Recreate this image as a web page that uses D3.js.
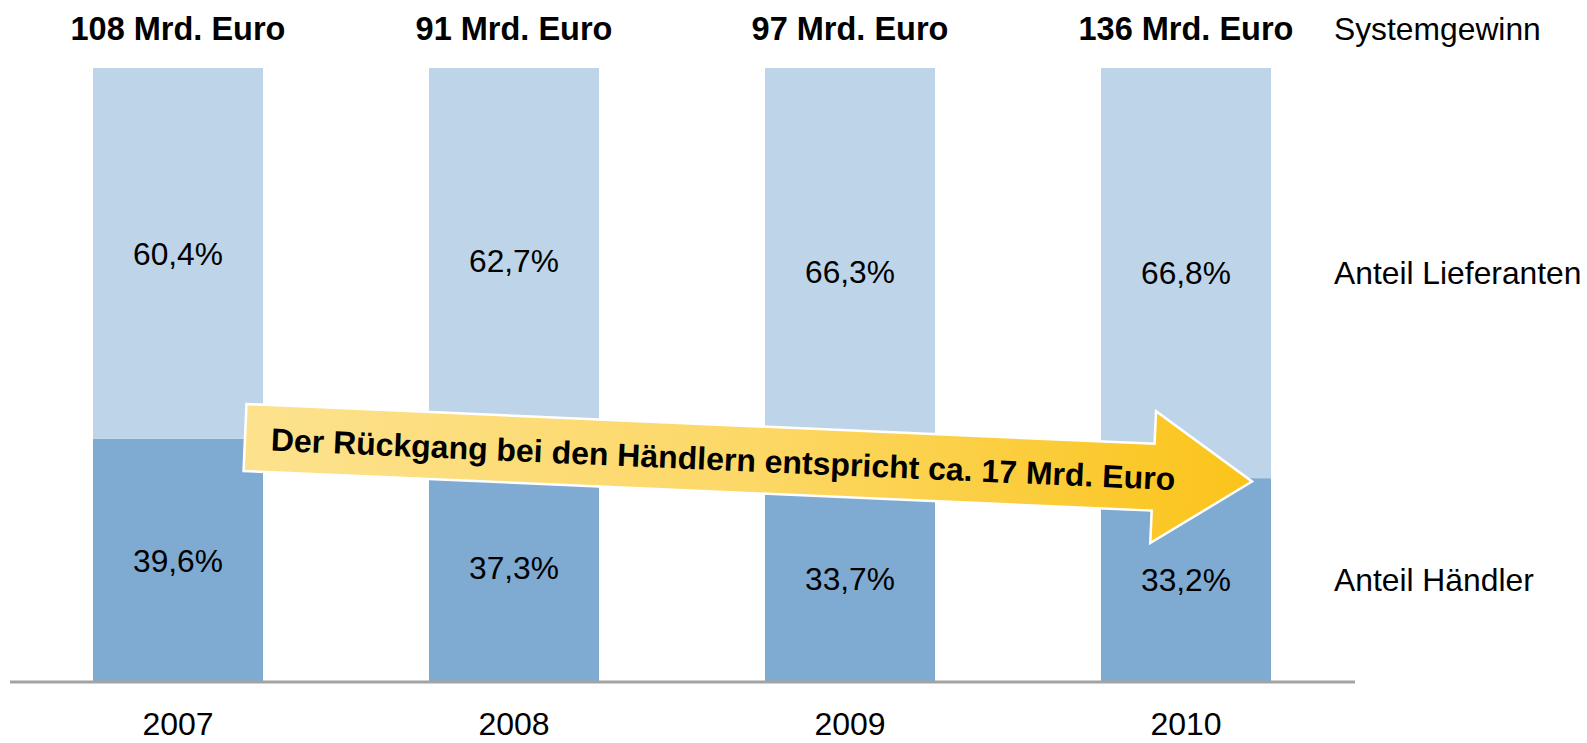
<!DOCTYPE html>
<html>
<head>
<meta charset="utf-8">
<script src="https://cdn.jsdelivr.net/npm/d3@7"></script>
<style>
html,body{margin:0;padding:0;background:#fff;}
text{font-family:"Liberation Sans", Arial, sans-serif;}
</style>
</head>
<body>
<svg id="chart" width="1587" height="743"></svg>
<script>
const years = ["2007", "2008", "2009", "2010"];
const totals = ["108 Mrd. Euro", "91 Mrd. Euro", "97 Mrd. Euro", "136 Mrd. Euro"];
const haendler = [39.6, 37.3, 33.7, 33.2];
const lieferanten = [60.4, 62.7, 66.3, 66.8];
const seriesNames = ["Anteil Händler", "Anteil Lieferanten"];
const totalLabel = "Systemgewinn";
const arrowText = "Der Rückgang bei den Händlern entspricht ca. 17 Mrd. Euro";

const fmt = v => d3.format(".1f")(v).replace(".", ",") + "%";

const svg = d3.select("#chart");
const x = d3.scaleBand().domain(years).range([10, 1354]).paddingInner(0.494).paddingOuter(0.247);
const y = d3.scaleLinear().domain([0, 100]).range([682, 68]);

const colors = {h: "#7FAAD1", l: "#BED4E8"};

const data = years.map((yr, i) => ({yr, h: haendler[i], l: lieferanten[i], total: totals[i]}));

// bars
const g = svg.append("g");
g.selectAll(".bh").data(data).join("rect")
  .attr("x", d => x(d.yr)).attr("width", x.bandwidth())
  .attr("y", d => y(d.h)).attr("height", d => y(0) - y(d.h))
  .attr("fill", colors.h);
g.selectAll(".bl").data(data).join("rect")
  .attr("x", d => x(d.yr)).attr("width", x.bandwidth())
  .attr("y", d => y(d.h + d.l)).attr("height", d => y(d.h) - y(d.h + d.l))
  .attr("fill", colors.l);

// value labels
const lab = svg.append("g").attr("font-size", 31.7).attr("text-anchor", "middle").attr("fill", "#000");
lab.selectAll(".vl").data(data).join("text")
  .attr("x", d => x(d.yr) + x.bandwidth() / 2)
  .attr("y", d => y(d.h + d.l / 2)).attr("dy", "0.35em")
  .text(d => fmt(d.l));
lab.selectAll(".vh").data(data).join("text")
  .attr("x", d => x(d.yr) + x.bandwidth() / 2)
  .attr("y", d => y(d.h / 2)).attr("dy", "0.35em")
  .text(d => fmt(d.h));

// totals
svg.append("g").selectAll("text").data(data).join("text")
  .attr("x", d => x(d.yr) + x.bandwidth() / 2)
  .attr("y", 40).attr("text-anchor", "middle")
  .attr("font-size", 32.5).attr("font-weight", "bold")
  .text(d => d.total);

// axis line
svg.append("line").attr("x1", 10).attr("x2", 1355).attr("y1", 682).attr("y2", 682)
  .attr("stroke", "#A3A3A3").attr("stroke-width", 3);

// year labels
svg.append("g").selectAll("text").data(data).join("text")
  .attr("x", d => x(d.yr) + x.bandwidth() / 2)
  .attr("y", 735).attr("text-anchor", "middle").attr("font-size", 32)
  .text(d => d.yr);

// right side legend labels (aligned with last bar)
const last = data[data.length - 1];
const rl = svg.append("g").attr("font-size", 31.8);
rl.append("text").attr("x", 1334).attr("y", 40).text(totalLabel);
rl.append("text").attr("x", 1334).attr("y", y(last.h + last.l / 2)).attr("dy", "0.35em").text(seriesNames[1]);
rl.append("text").attr("x", 1334).attr("y", y(last.h / 2)).attr("dy", "0.35em").text(seriesNames[0]);

// arrow
const defs = svg.append("defs");
const grad = defs.append("linearGradient").attr("id", "ag").attr("x1", "0%").attr("x2", "100%").attr("y1", "0%").attr("y2", "0%");
grad.append("stop").attr("offset", "0%").attr("stop-color", "#FDE28E");
grad.append("stop").attr("offset", "50%").attr("stop-color", "#FCD867");
grad.append("stop").attr("offset", "100%").attr("stop-color", "#FBC41A");

const ag = svg.append("g").attr("transform", "translate(245,437.5) rotate(2.5)");
const shaftLen = 909, half = 33.5, headHalf = 66, tip = 1008;
const pts = [[0,-half],[shaftLen,-half],[shaftLen,-headHalf],[tip,0],[shaftLen,headHalf],[shaftLen,half],[0,half]];
ag.append("path").attr("d", d3.line()(pts) + "Z")
  .attr("fill", "url(#ag)").attr("stroke", "#fff").attr("stroke-width", 2.5).attr("stroke-linejoin", "miter");
ag.append("text").attr("x", 26).attr("y", 12).attr("font-size", 32).attr("font-weight", "bold")
  .attr("fill", "#000").text(arrowText);
</script>
</body>
</html>
